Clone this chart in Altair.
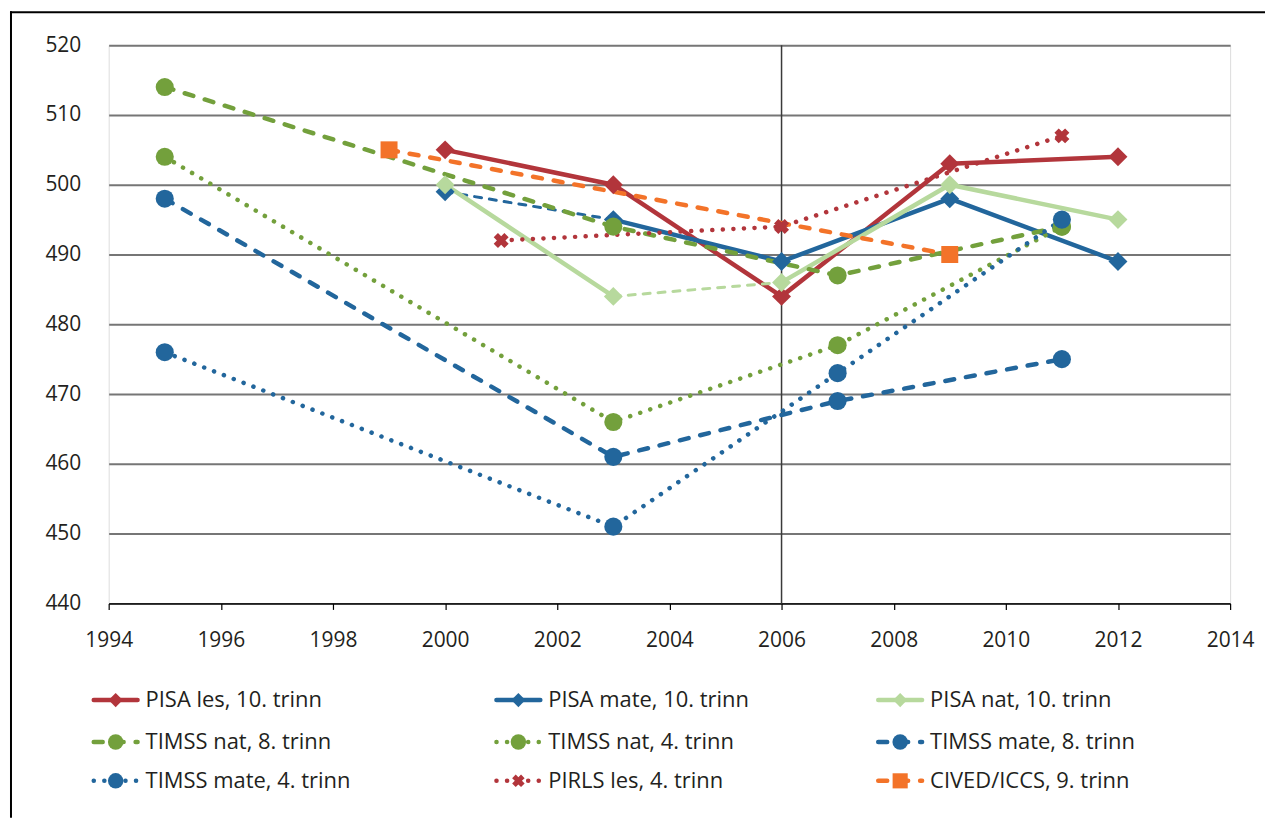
import altair as alt
import pandas as pd

FONT = "Open Sans"

# ---- data ----
YEARS_PISA = [2000, 2003, 2006, 2009, 2012]
PISA_LES = [505, 500, 484, 503, 504]
PISA_MATE = [499, 495, 489, 498, 489]
PISA_NAT = [500, 484, 486, 500, 495]

YEARS_TIMSS = [1995, 2003, 2007, 2011]
TIMSS_NAT_8 = [514, 494, 487, 494]
TIMSS_NAT_4 = [504, 466, 477, 494]
TIMSS_MATE_8 = [498, 461, 469, 475]
TIMSS_MATE_4 = [476, 451, 473, 495]

YEARS_PIRLS = [2001, 2006, 2011]
PIRLS_LES = [492, 494, 507]

YEARS_CIVED = [1999, 2009]
CIVED_ICCS = [505, 490]

SERIES = [
    ("PISA les, 10. trinn", YEARS_PISA, PISA_LES),
    ("PISA mate, 10. trinn", YEARS_PISA, PISA_MATE),
    ("PISA nat, 10. trinn", YEARS_PISA, PISA_NAT),
    ("TIMSS nat, 8. trinn", YEARS_TIMSS, TIMSS_NAT_8),
    ("TIMSS nat, 4. trinn", YEARS_TIMSS, TIMSS_NAT_4),
    ("TIMSS mate, 8. trinn", YEARS_TIMSS, TIMSS_MATE_8),
    ("TIMSS mate, 4. trinn", YEARS_TIMSS, TIMSS_MATE_4),
    ("PIRLS les, 4. trinn", YEARS_PIRLS, PIRLS_LES),
    ("CIVED/ICCS, 9. trinn", YEARS_CIVED, CIVED_ICCS),
]

# segments (given by start year) drawn as a thin broken line
BROKEN = {"PISA mate, 10. trinn": [2000], "PISA nat, 10. trinn": [2003]}

X_TICKS = list(range(1994, 2015, 2))
Y_TICKS = list(range(440, 521, 10))
MARK_YEAR = [2006]

# ---- styles ----
RED = "#b2353b"
BLUE = "#22669c"
LGREEN = "#b7d99d"
GREEN = "#73a03c"
ORANGE = "#f37329"
TXT = "#231f20"

STYLE = {
    "PISA les, 10. trinn": (RED, "solid", "diamond"),
    "PISA mate, 10. trinn": (BLUE, "solid", "diamond"),
    "PISA nat, 10. trinn": (LGREEN, "solid", "diamond"),
    "TIMSS nat, 8. trinn": (GREEN, "dashed", "circle"),
    "TIMSS nat, 4. trinn": (GREEN, "dotted", "circle"),
    "TIMSS mate, 8. trinn": (BLUE, "dashed", "circle"),
    "TIMSS mate, 4. trinn": (BLUE, "dotted", "circle"),
    "PIRLS les, 4. trinn": (RED, "dotted", "cross"),
    "CIVED/ICCS, 9. trinn": (ORANGE, "dashed", "square"),
}
LINE = {
    "solid": dict(strokeWidth=4.5, strokeCap="round"),
    "dashed": dict(strokeWidth=4.5, strokeDash=[9, 12], strokeCap="round"),
    "dotted": dict(strokeWidth=4.5, strokeDash=[0.1, 10.5], strokeCap="round"),
    "thin": dict(strokeWidth=3, strokeDash=[7, 8], strokeCap="round"),
}
SIZE = {"diamond": 360, "circle": 330, "square": 290, "cross": 230}
LSIZE = {"diamond": 200, "circle": 240, "square": 230, "cross": 160}

# ---- build tables ----
rows = []
for name, yrs, vals in SERIES:
    broken = set(BROKEN.get(name, []))
    run, prev = 0, None
    seen = set()
    for i in range(len(yrs) - 1):
        st = "thin" if yrs[i] in broken else "main"
        if prev is not None and st != prev:
            run += 1
        prev = st
        for j in (i, i + 1):
            if (run, j) in seen:
                continue
            seen.add((run, j))
            rows.append(dict(series=name, year=yrs[j], score=vals[j], run=run, style=st))
lines_df = pd.DataFrame(rows)
pts_df = pd.DataFrame(
    [dict(series=n, year=y, score=v) for n, yrs, vals in SERIES for y, v in zip(yrs, vals)]
)
leg_df = pd.DataFrame(
    [dict(series=n, col=i % 3, row=i // 3) for i, (n, _, _) in enumerate(SERIES)]
)

W, H = 1125, 560

X = alt.X(
    "year:Q",
    scale=alt.Scale(domain=[1994, 2014], nice=False, zero=False),
    axis=alt.Axis(
        values=X_TICKS, format="d", title=None, grid=False, domain=True,
        domainColor="black", domainWidth=1.2, ticks=True, tickColor="black",
        tickSize=6, tickWidth=1.2, labelFontSize=21, labelPadding=20,
        labelFlush=False, labelColor=TXT, labelFont=FONT,
    ),
)
Y = alt.Y(
    "score:Q",
    scale=alt.Scale(domain=[440, 520], nice=False, zero=False),
    axis=alt.Axis(
        values=Y_TICKS, title=None, grid=True, gridColor="#767676", gridWidth=2,
        domain=False, ticks=False, labelPadding=28, labelFontSize=21,
        labelColor=TXT, labelFont=FONT,
    ),
)

main_layers = []
# vertical marker line at 2006
main_layers.append(
    alt.Chart(pd.DataFrame({"year": MARK_YEAR}))
    .mark_rule(color="#3a3a3a", strokeWidth=1.5)
    .encode(x=X)
)
for name, _, _ in SERIES:
    color, ls, shape = STYLE[name]
    for st in ("main", "thin"):
        sub = lines_df[(lines_df.series == name) & (lines_df["style"] == st)]
        if sub.empty:
            continue
        props = LINE["thin"] if st == "thin" else LINE[ls]
        main_layers.append(
            alt.Chart(sub)
            .mark_line(color=color, strokeJoin="round", **props)
            .encode(x=X, y=Y, detail="run:N", order="year:Q")
        )
for name, _, _ in SERIES:
    color, ls, shape = STYLE[name]
    extra = dict(angle=45) if shape == "cross" else {}
    main_layers.append(
        alt.Chart(pts_df[pts_df.series == name])
        .mark_point(filled=True, color=color, shape=shape, size=SIZE[shape], opacity=1, **extra)
        .encode(x=X, y=Y)
    )

# outer frame (left and top edges)
one = pd.DataFrame({"a": [0]})
main_layers.append(
    alt.Chart(one).mark_rule(color="black", strokeWidth=2)
    .encode(x=alt.value(-98), y=alt.value(-34), y2=alt.value(775))
)
main_layers.append(
    alt.Chart(one).mark_rule(color="black", strokeWidth=2)
    .encode(x=alt.value(-99), x2=alt.value(1160), y=alt.value(-33))
)

main = alt.layer(*main_layers)

# ---- hand-built legend (3 columns) ----
LX = alt.X("col:Q", scale=alt.Scale(domain=[0, 1, 2], range=[-15, 389, 772]), axis=None)
LX2 = alt.X2("col:Q")
LY = alt.Y("row:Q", scale=alt.Scale(domain=[0, 1, 2], range=[657, 699, 738]), axis=None)

leg_layers = []
for name, _, _ in SERIES:
    color, ls, shape = STYLE[name]
    d = leg_df[leg_df.series == name]
    leg_layers.append(
        alt.Chart(d).mark_rule(color=color, x2Offset=44, **LINE[ls]).encode(x=LX, x2=LX2, y=LY)
    )
    extra = dict(angle=45) if shape == "cross" else {}
    leg_layers.append(
        alt.Chart(d)
        .mark_point(filled=True, color=color, shape=shape, size=LSIZE[shape], opacity=1, xOffset=22, **extra)
        .encode(x=LX, y=LY)
    )
    leg_layers.append(
        alt.Chart(d)
        .mark_text(align="left", baseline="middle", xOffset=52, fontSize=22, font=FONT, color=TXT)
        .encode(x=LX, y=LY, text="series:N")
    )
legend = alt.layer(*leg_layers)

chart = (
    alt.layer(main, legend)
    .resolve_scale(x="independent", y="independent")
    .properties(width=W, height=H, padding={"left": 1, "top": 1, "right": 1, "bottom": 1})
    .configure_view(stroke=None)
    .configure(background="white")
)

chart.save("out.html", embed_options={"renderer": "svg", "actions": False})
